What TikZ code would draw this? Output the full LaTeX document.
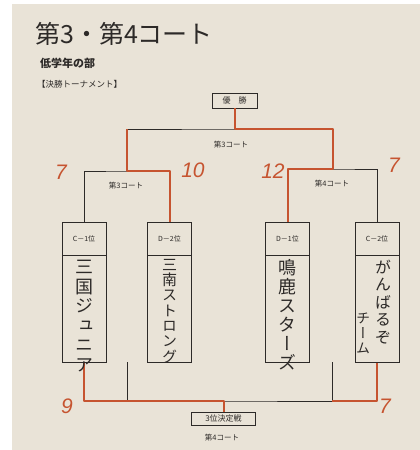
\documentclass[tikz,border=0pt]{standalone}
\usepackage{fontspec}
\setmainfont{Noto Sans CJK JP}
\newfontfamily\hand{Liberation Sans}
\newfontfamily\tate[RawFeature=+vert]{Noto Sans CJK JP}
\definecolor{paper}{RGB}{233,227,215}
\definecolor{pen}{RGB}{198,84,48}
\definecolor{ink}{RGB}{45,42,40}

\begin{document}
\begin{tikzpicture}[x=1pt,y=-1pt,
    every node/.append style={inner sep=0pt,text=ink},
    hdr/.style={draw=ink,line width=0.6pt,minimum width=44,minimum height=33,font=\fontsize{7}{8}\selectfont},
    namebox/.style={draw=ink,line width=0.6pt,minimum width=44,minimum height=107,anchor=north},
    team/.style={align=center},
    court/.style={font=\fontsize{7.5}{8}\selectfont},
    score/.style={text=pen,font=\hand\itshape\fontsize{21}{21}\selectfont},
    result/.style={draw=pen,line width=2pt,line join=round}]
  \useasboundingbox (0,0) rectangle (420,450);
  \fill[white] (0,0) rectangle (420,450);
  \fill[paper] (12,4) rectangle (420,450);

  % headings
  \node[anchor=west,font=\fontsize{25}{25}\selectfont] (Title) at (35,34) {第3・第4コート};
  \node[anchor=west,font=\bfseries\fontsize{11}{11}\selectfont] (Division) at (40,63) {低学年の部};
  \node[anchor=west,font=\fontsize{8.5}{9}\selectfont] (Kind) at (37,84) {【決勝トーナメント】};

  \node[draw=ink,line width=0.6pt,minimum width=45,minimum height=15,font=\fontsize{8}{8}\selectfont] (Winner) at (234.5,100.5) {優\quad 勝};

  % team boxes
  \node[hdr] (C1) at (84,238.5) {C－1位};
  \node[hdr] (D2) at (169.5,238.5) {D－2位};
  \node[hdr] (D1) at (287.5,238.5) {D－1位};
  \node[hdr] (C2) at (377,238.5) {C－2位};
  \node[namebox] (C1name) at (C1.south) {};
  \node[namebox] (D2name) at (D2.south) {};
  \node[namebox] (D1name) at (D1.south) {};
  \node[namebox] (C2name) at (C2.south) {};

  % bracket
  \coordinate (LeftSemi) at (127,171);
  \coordinate (RightSemi) at (332.5,169);
  \coordinate (Final) at (234.5,129);
  \draw[ink,line width=0.8pt] (C1.north) |- (LeftSemi) -| (D2.north);
  \draw[ink,line width=0.8pt] (D1.north) |- (RightSemi) -| (C2.north);
  \draw[ink,line width=0.8pt] (LeftSemi) |- (Final) -| (RightSemi);
  \draw[ink,line width=0.8pt] (Winner) -- (Final);

  \node[draw=ink,line width=0.6pt,minimum width=64,minimum height=13,font=\fontsize{8}{8}\selectfont] (Third) at (223.5,418.5) {3位決定戦};
  \coordinate (ThirdL) at (127,362);
  \coordinate (ThirdR) at (332,362);
  \coordinate (ThirdJ) at (223.5,401);
  \draw[ink,line width=0.8pt] (ThirdL) |- (ThirdJ) -| (ThirdR);
  \draw[ink,line width=0.8pt] (ThirdJ) -- (Third);

  \node[court] (FinalCourt) at (231,145) {第3コート};
  \node[court] (LeftCourt) at (126,186) {第3コート};
  \node[court] (RightCourt) at (332,184) {第4コート};
  \node[court] (ThirdCourt) at (222,438) {第4コート};

  % results in red pen
  \draw[result] (D2.north) |- (LeftSemi) -- (LeftSemi |- Final);
  \draw[result] (Winner) -- (Final) -| (RightSemi) -| (D1.north);
  \draw[result] (C1name.south) |- (ThirdJ) -- (Third);
  \draw[result] (C2name.south) |- (ThirdJ -| ThirdR);

  \node[score] (C1score) at (61,172) {7};
  \node[score] (D2score) at (193,170) {10};
  \node[score] (D1score) at (273,171) {12};
  \node[score] (C2score) at (394,165) {7};
  \node[score] (C1third) at (67,406) {9};
  \node[score] (C2third) at (385,406) {7};

  % team names
  \node[team,font=\tate\fontsize{18}{19.5}\selectfont] (C1team) at (84,316) {三\\国\\ジ\\ュ\\ニ\\ア};
  \node[team,font=\tate\fontsize{15}{15.3}\selectfont] (D2team) at (169.5,311) {三\\南\\ス\\ト\\ロ\\ン\\グ};
  \node[team,font=\tate\fontsize{18}{19}\selectfont] (D1team) at (287.5,315) {鳴\\鹿\\ス\\タ\\ー\\ズ};
  \node[team,font=\tate\fontsize{16}{17.4}\selectfont] (C2team) at (383,302) {が\\ん\\ば\\る\\ぞ};
  \node[team,font=\tate\fontsize{14}{15}\selectfont] (C2team2) at (363,333) {チ\\ー\\ム};
\end{tikzpicture}
\end{document}
